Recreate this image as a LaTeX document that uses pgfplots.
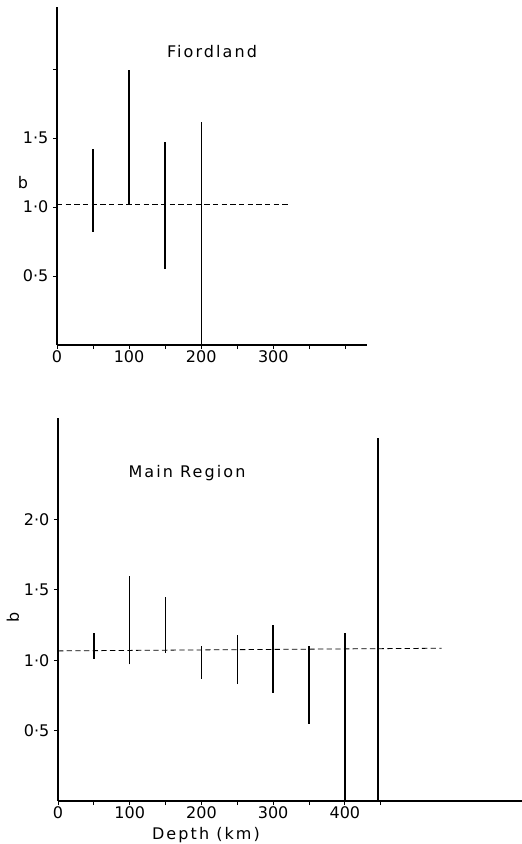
\documentclass[border=0pt]{standalone}
\usepackage{pgfplots}
\pgfplotsset{compat=1.18}
\usepackage{fontspec}
\setmainfont{DejaVu Sans}
\newfontfamily\lsfont[LetterSpace=13]{DejaVu Sans}

\begin{document}
\begin{tikzpicture}
\useasboundingbox (0,0) rectangle (391.5pt,-633pt);
\pgfplotsset{
  every axis/.append style={
    scale only axis,
    axis x line=bottom, axis y line=left,
    axis line style={-, line width=0.8pt},
    xmin=0, ymin=0,
    tick align=outside,
    tick style={black, line width=0.6pt},
    major tick length=3pt,
    /pgf/number format/assume math mode=true,
    tick label style={font=\fontsize{12}{14}\selectfont},
    xticklabel style={yshift=2pt},
    clip=false,
  },
  bar/.style={black, line width=1pt},
  ref/.style={black, line width=0.6pt, dash pattern=on 4pt off 2.5pt},
}

% ---------- Fiordland ----------
\begin{axis}[
  at={(42.75pt,-258.75pt)}, anchor=south west,
  width=232.5pt, height=253.5pt,
  xmax=430, ymax=2.45,
  xtick={0,50,...,400}, xticklabels={0,,100,,200,,300,,},
  ytick={0.5,1,1.5,2}, yticklabels={0·5,1·0,1·5,},
]
\addplot[bar] coordinates {(50,0.82) (50,1.42)};
\addplot[bar] coordinates {(100,1.02) (100,1.99)};
\addplot[bar] coordinates {(150,0.55) (150,1.47)};
\addplot[bar] coordinates {(200,0.0) (200,1.62)};
\addplot[ref] coordinates {(0,1.02) (320,1.02)};
\end{axis}

% ---------- Main Region ----------
\begin{axis}[
  at={(43.5pt,-600.75pt)}, anchor=south west,
  width=348pt, height=287.25pt,
  xmax=647, ymax=2.72,
  xtick={0,50,...,450}, xticklabels={0,,100,,200,,300,,400,},
  ytick={0.5,1,1.5,2}, yticklabels={0·5,1·0,1·5,2·0},
]
\addplot[bar] coordinates {(50,1.01) (50,1.195)};
\addplot[bar] coordinates {(100,0.97) (100,1.60)};
\addplot[bar] coordinates {(150,1.05) (150,1.45)};
\addplot[bar] coordinates {(200,0.87) (200,1.10)};
\addplot[bar] coordinates {(250,0.83) (250,1.18)};
\addplot[bar] coordinates {(300,0.77) (300,1.25)};
\addplot[bar] coordinates {(350,0.55) (350,1.10)};
\addplot[bar] coordinates {(400,0.0) (400,1.19)};
\addplot[bar] coordinates {(446,0.0) (446,2.58)};
\addplot[ref] coordinates {(0,1.066) (535,1.085)};
\end{axis}

\node[font=\lsfont\fontsize{12}{14}\selectfont] at (159pt,-39pt) {Fiordland};
\node[font=\lsfont\fontsize{12}{14}\selectfont] at (140.25pt,-354.75pt) {Main Region};
\node[font=\lsfont\fontsize{12}{14}\selectfont, inner sep=0pt] at (154.5pt,-626pt) {Depth (km)};
\node[font=\fontsize{12}{14}\selectfont] at (17.25pt,-137.25pt) {b};
\node[font=\fontsize{12}{14}\selectfont, rotate=90] at (9.75pt,-462.75pt) {b};
\end{tikzpicture}
\end{document}
